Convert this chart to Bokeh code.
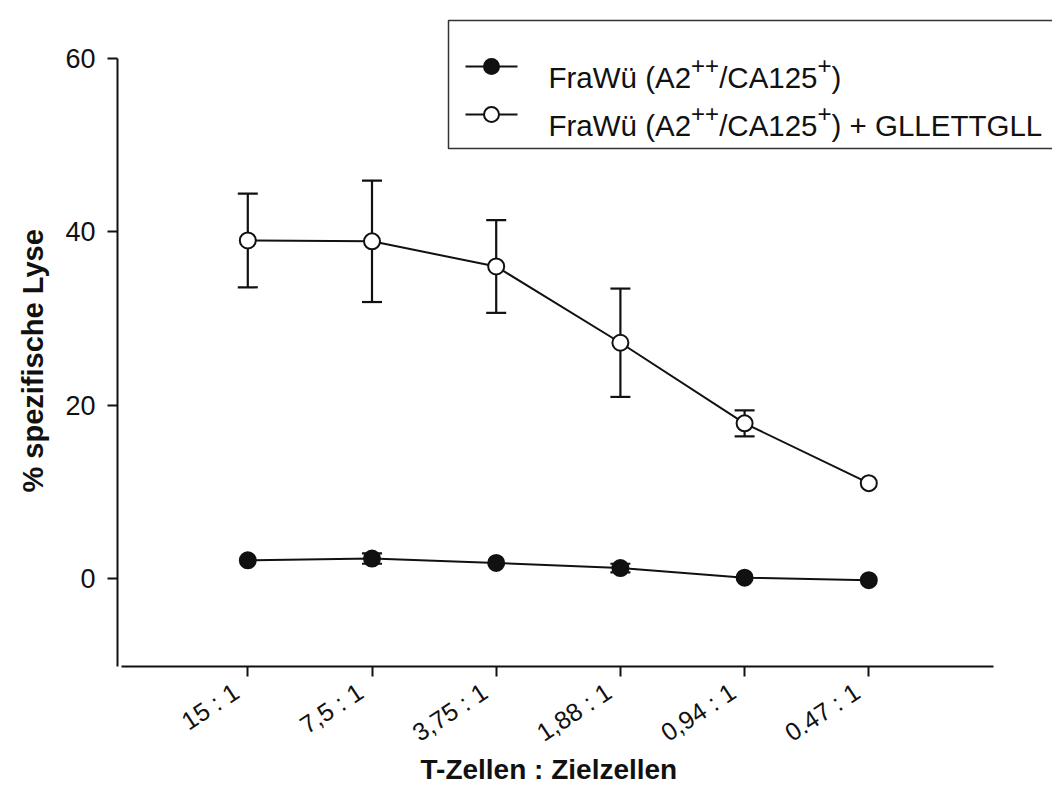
from bokeh.plotting import figure
from bokeh.models import Range1d, FixedTicker, Title
from bokeh.core.properties import value
from bokeh.embed import file_html
from bokeh.resources import INLINE

# ---------------- data ----------------
ratio_labels = ["15 : 1", "7,5 : 1", "3,75 : 1", "1,88 : 1", "0,94 : 1", "0.47 : 1"]
lyse_frawue = [2.1, 2.3, 1.8, 1.2, 0.1, -0.2]
err_frawue = [0.0, 0.6, 0.0, 0.5, 0.0, 0.0]
lyse_peptid = [39.0, 38.9, 36.0, 27.2, 17.9, 11.0]
err_peptid = [5.4, 7.0, 5.35, 6.25, 1.5, 0.0]
y_ticks = [0, 20, 40, 60]
y_axis_top = 60

x_title = "T-Zellen : Zielzellen"
y_title = "% spezifische Lyse"
legend_rows = [
    [("FraWü (A2", "n"), ("++", "s"), ("/CA125", "n"), ("+", "s"), (")", "n")],
    [("FraWü (A2", "n"), ("++", "s"), ("/CA125", "n"), ("+", "s"), (") + GLLETTGLL", "n")],
]
legend_filled = [True, False]

FONT = "Liberation Sans"

# ---------------- layout (page pixels) ----------------
FRAME_L, FRAME_R, FRAME_T, FRAME_B = 118, 1053, 15, 666
CANVAS_BOTTOM = 784
CAT0_PX, CAT_STEP = 248.3, 124.2
Y0_PX, Y_PER_UNIT = 578.0, 8.667


def sx(px):
    return (px - CAT0_PX) / CAT_STEP


def sy(py):
    return (Y0_PX - py) / Y_PER_UNIT


p = figure(
    frame_width=FRAME_R - FRAME_L,
    frame_height=FRAME_B - FRAME_T,
    x_range=Range1d(sx(FRAME_L), sx(FRAME_R)),
    y_range=Range1d(sy(FRAME_B), sy(FRAME_T)),
    output_backend="svg",
    toolbar_location=None,
    min_border_left=FRAME_L - 8,
    min_border_top=FRAME_T,
    min_border_right=0,
    min_border_bottom=CANVAS_BOTTOM - FRAME_B,
)
p.outline_line_color = None
p.xgrid.visible = False
p.ygrid.visible = False
p.background_fill_color = "white"

INK = "#111111"


def draw_series(vals, errs, filled):
    xs = list(range(len(vals)))
    bx = [x for x, e in zip(xs, errs) if e > 0]
    lo = [v - e for v, e in zip(vals, errs) if e > 0]
    hi = [v + e for v, e in zip(vals, errs) if e > 0]
    p.segment(bx, lo, bx, hi, line_color=INK, line_width=2.2)
    p.scatter(bx, lo, marker="dash", size=20, line_color=INK, line_width=2.2)
    p.scatter(bx, hi, marker="dash", size=20, line_color=INK, line_width=2.2)
    p.line(xs, vals, line_color=INK, line_width=2)
    p.scatter(xs, vals, marker="circle", size=16,
              fill_color=INK if filled else "white", line_color=INK, line_width=2)


draw_series(lyse_peptid, err_peptid, False)
draw_series(lyse_frawue, err_frawue, True)

# ---------------- legend (drawn by hand for superscripts) ----------------
ARIAL_W = {'F': 611, 'r': 333, 'a': 556, 'W': 944, 'ü': 556, ' ': 278, '(': 333,
           'A': 667, '2': 556, '/': 278, 'C': 722, '1': 556, '5': 556, ')': 333,
           '+': 584, 'G': 778, 'L': 556, 'E': 667, 'T': 611}


def tw(s, size):
    return sum(ARIAL_W.get(c, 556) for c in s) * size / 1000.0


LEG_L, LEG_T, LEG_B = 449, 20, 148
ROW_Y = [66, 114]
LINE_X0, LINE_X1, MARK_X, TEXT_X = 466, 518, 492, 549
MAIN_SIZE, SUP_SIZE, SUP_RAISE, BASE_DROP = 29.5, 24, 12, 11

p.quad(left=[sx(LEG_L)], right=[sx(FRAME_R + 30)], top=[sy(LEG_T)], bottom=[sy(LEG_B)],
       fill_color="white", line_color="#333333", line_width=1.5)

nx, ny, nt, ssx, ssy, st = [], [], [], [], [], []
for row, ry, filled in zip(legend_rows, ROW_Y, legend_filled):
    p.line([sx(LINE_X0), sx(LINE_X1)], [sy(ry), sy(ry)], line_color=INK, line_width=2)
    p.scatter([sx(MARK_X)], [sy(ry)], marker="circle", size=15,
              fill_color=INK if filled else "white", line_color=INK, line_width=2)
    cx = TEXT_X
    base = ry + BASE_DROP
    for txt, kind in row:
        if kind == "n":
            nx.append(sx(cx)); ny.append(sy(base)); nt.append(txt)
            cx += tw(txt, MAIN_SIZE)
        else:
            ssx.append(sx(cx)); ssy.append(sy(base - SUP_RAISE)); st.append(txt)
            cx += tw(txt, SUP_SIZE)

p.text(nx, ny, text=nt, text_font=value(FONT), text_font_size=f"{MAIN_SIZE}px",
       text_align="left", text_baseline="alphabetic", text_color=INK)
p.text(ssx, ssy, text=st, text_font=value(FONT), text_font_size=f"{SUP_SIZE}px",
       text_align="left", text_baseline="alphabetic", text_color=INK)

# ---------------- axes ----------------
PAD = "\u00a0\u00a0"  # shifts rotated tick labels down-left of their tick
xa = p.xaxis[0]
xa.ticker = FixedTicker(ticks=list(range(len(ratio_labels))))
xa.major_label_overrides = {i: lab + PAD for i, lab in enumerate(ratio_labels)}
xa.major_label_orientation = 0.58
xa.bounds = (sx(122), sx(994))
xa.minor_tick_line_color = None
xa.major_tick_out = 10
xa.major_tick_in = 0
xa.major_tick_line_width = 2
xa.axis_line_width = 2
xa.axis_line_color = INK
xa.major_tick_line_color = INK
xa.major_label_text_font = FONT
xa.major_label_text_font_size = "25px"
xa.major_label_text_color = INK
xa.major_label_standoff = 5

ya = p.yaxis[0]
ya.ticker = FixedTicker(ticks=y_ticks)
ya.bounds = (sy(FRAME_B), y_axis_top)
ya.minor_tick_line_color = None
ya.major_tick_out = 10
ya.major_tick_in = 0
ya.major_tick_line_width = 2
ya.axis_line_width = 2
ya.axis_line_color = INK
ya.major_tick_line_color = INK
ya.major_label_text_font = FONT
ya.major_label_text_font_size = "27px"
ya.major_label_text_color = INK
ya.major_label_standoff = 12

p.add_layout(Title(text=y_title, align="left", offset=FRAME_B - 492,
                   text_font=FONT, text_font_size="29px", text_font_style="bold",
                   text_color=INK, standoff=28), "left")

p.add_layout(Title(text=x_title, align="left", offset=421 - FRAME_L,
                   text_font=FONT, text_font_size="28px", text_font_style="bold",
                   text_color=INK, standoff=-20), "below")

open("out.html", "w").write(file_html(p, INLINE, title="Lyse"))
